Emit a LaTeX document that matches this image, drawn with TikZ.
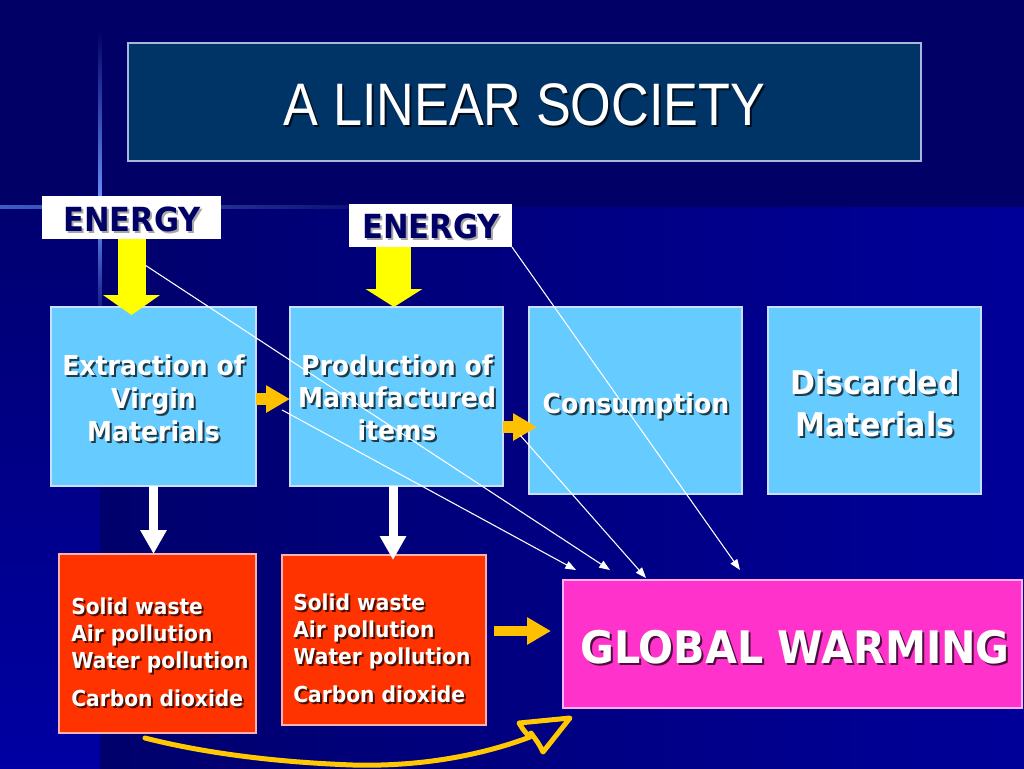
\documentclass[tikz,border=0pt]{standalone}
\usepackage{fontspec}
\setmainfont{DejaVu Sans}[FakeStretch=0.92]
\newfontfamily\titlefont{Liberation Sans}[FakeStretch=0.87]
\usetikzlibrary{arrows.meta,calc}
\definecolor{bgtop}{HTML}{000066}
\definecolor{bgmidL}{HTML}{00006C}
\definecolor{bgmidR}{HTML}{000099}
\definecolor{bgstripT}{HTML}{000070}
\definecolor{bgstripB}{HTML}{0000A3}
\definecolor{flareC}{HTML}{6A98FF}
\definecolor{titlefill}{HTML}{003366}
\definecolor{titleedge}{HTML}{A8B8D8}
\definecolor{lblue}{HTML}{66CCFF}
\definecolor{lblueedge}{HTML}{C8E0FF}
\definecolor{redfill}{HTML}{FF3300}
\definecolor{rededge}{HTML}{FFB0B0}
\definecolor{magfill}{HTML}{FF33CC}
\definecolor{magedge}{HTML}{FFB0F0}
\definecolor{yel}{HTML}{FFFF00}
\definecolor{orng}{HTML}{FFC000}
\definecolor{handcol}{HTML}{FFC800}
\definecolor{navytext}{HTML}{000066}
\newcommand\shtxt[5][shdark]{%
  \node[#3,#1] (#2s) at ([shift={(1.5pt,-1.5pt)}]#4) {#5};%
  \node[#3] (#2) at (#4) {#5};}
\begin{document}
\begin{tikzpicture}[x=0.75pt,y=-0.75pt,
  box/.style={inner sep=0pt, outer sep=0pt, anchor=north west, line width=0.8pt},
  titlebox/.style={box, draw=titleedge, fill=titlefill},
  whitebox/.style={box, fill=white},
  bluebox/.style={box, draw=lblueedge, fill=lblue},
  redbox/.style={box, draw=rededge, fill=redfill},
  magbox/.style={box, draw=magedge, fill=magfill},
  wtxt/.style={inner sep=0pt, anchor=base, text=white},
  rtxt/.style={wtxt, anchor=base west, font=\bfseries\fontsize{16.5}{20}\selectfont},
  ntxt/.style={inner sep=0pt, anchor=base, text=navytext, font=\bfseries\fontsize{24.9}{28}\selectfont},
  bfont/.style={font=\bfseries\fontsize{20.5}{24}\selectfont},
  dfont/.style={font=\bfseries\fontsize{24.5}{28}\selectfont},
  gfont/.style={font=\bfseries\fontsize{33.6}{38}\selectfont},
  tfont/.style={font=\titlefont\fontsize{45}{50}\selectfont},
  shdark/.style={text=black, opacity=0.7},
  shgray/.style={text=black!35},
  yarrow/.style={draw=yel, line width=#1},
  warrow/.style={draw=white, line width=6.75pt, -{Triangle[length=18pt,width=18.75pt]}},
  oarrow/.style={draw=orng, line width=9pt, -{Triangle[length=18pt,width=19.5pt]}},
  thinarrow/.style={draw=white, line width=0.8pt, -{Triangle[length=8pt,width=6pt]}},
  handcurve/.style={draw=handcol, line width=3.75pt, line cap=round, line join=round}]
\useasboundingbox (0,0) rectangle (1024,768);
% background
\fill[bgtop] (0,0) rectangle (1024,207);
\shade[left color=bgmidL, right color=bgmidR] (100,207) rectangle (1024,768);
\shade[top color=bgstripT, bottom color=bgstripB] (0,207) rectangle (100,768);
% flare
\shade[top color=bgtop, bottom color=flareC] (98.5,30) rectangle (101.5,207);
\shade[top color=flareC, bottom color=bgmidL] (98.5,207) rectangle (101.5,330);
\shade[left color=flareC!60!bgtop, middle color=flareC, right color=flareC!35!bgtop] (0,205.5) rectangle (200,208.5);
\shade[left color=flareC!35!bgtop, right color=bgtop] (200,205.5) rectangle (420,208.5);
\fill[white, opacity=0.6] (100,207) circle (2.5);
% boxes
\node[titlebox, minimum width=594.75pt, minimum height=88.5pt] (title) at (128,43) {};
\node[whitebox, minimum width=134.25pt, minimum height=32.25pt] (e1) at (42,196) {};
\node[whitebox, minimum width=122.25pt, minimum height=32.25pt] (e2) at (349,204) {};
\node[bluebox, minimum width=153.75pt, minimum height=134.25pt] (b1) at (51,307) {};
\node[bluebox, minimum width=159.75pt, minimum height=134.25pt] (b2) at (290,307) {};
\node[bluebox, minimum width=159.75pt, minimum height=140.25pt] (b3) at (529,307) {};
\node[bluebox, minimum width=159.75pt, minimum height=140.25pt] (b4) at (768,307) {};
\node[redbox, minimum width=147.75pt, minimum height=134.25pt] (r1) at (59,554) {};
\node[redbox, minimum width=153pt, minimum height=127.5pt] (r2) at (282,555) {};
\node[magbox, minimum width=344.25pt, minimum height=96pt] (gw) at (563,580) {};
% block arrows
\draw[yarrow=21pt, -{Triangle[length=15pt,width=42pt]}, shorten >=-6pt] (e1.south) -- (e1.south |- b1.north);
\coordinate (e2s) at ([xshift=-27.4pt]e2.south);
\draw[yarrow=26.25pt, -{Triangle[length=13.5pt,width=42pt]}] (e2s) -- (e2s |- b2.north);
\draw[warrow] (b1.south) -- (b1.south |- r1.north);
\coordinate (b2s) at ([xshift=-2.6pt]b2.south);
\draw[warrow, shorten >=-3.75pt] (b2s) -- (b2s |- r2.north);
\coordinate (oa) at ([yshift=-1.9pt]b1.east);
\draw[oarrow] (oa) -- (oa -| b2.west);
\coordinate (ob) at ([yshift=-22.9pt]b2.east);
\draw[oarrow, shorten >=-6pt] (ob) -- (ob -| b3.west);
\coordinate (oc) at ([yshift=6.75pt]r2.east);
\draw[oarrow, line width=7pt, shorten <=6pt, shorten >=9pt] (oc) -- (oc -| gw.west);
% texts
\shtxt{tt}{wtxt,tfont}{524.5,125}{A LINEAR SOCIETY}
\shtxt[shgray]{et1}{ntxt}{132,231}{ENERGY}
\shtxt[shgray]{et2}{ntxt}{431,238.5}{ENERGY}
\shtxt{x1}{wtxt,bfont}{153.5,375}{Extraction of}
\shtxt{x2}{wtxt,bfont}{153.5,408}{Virgin}
\shtxt{x3}{wtxt,bfont}{153.5,441}{Materials}
\shtxt{p1}{wtxt,bfont}{397,375}{Production of}
\shtxt{p2}{wtxt,bfont}{397,407}{Manufactured}
\shtxt{p3}{wtxt,bfont}{397,440}{items}
\shtxt{c1}{wtxt,bfont}{636,413}{Consumption}
\shtxt{d1}{wtxt,dfont}{875,394}{Discarded}
\shtxt{d2}{wtxt,dfont}{875,436}{Materials}
\shtxt{ra1}{rtxt}{71,614}{Solid waste}
\shtxt{ra2}{rtxt}{71,641.5}{Air pollution}
\shtxt{ra3}{rtxt}{71,668.3}{Water pollution}
\shtxt{ra4}{rtxt}{71,706.5}{Carbon dioxide}
\shtxt{rb1}{rtxt}{293,610}{Solid waste}
\shtxt{rb2}{rtxt}{293,637}{Air pollution}
\shtxt{rb3}{rtxt}{293,664}{Water pollution}
\shtxt{rb4}{rtxt}{293,702}{Carbon dioxide}
\shtxt{g1}{wtxt,gfont}{795,663}{GLOBAL WARMING}
% thin arrows
\draw[thinarrow] ([shift={(10.1pt,-19.5pt)}]e1.south) -- ([shift={(35.25pt,7.5pt)}]gw.north west);
\draw[thinarrow] ([shift={(-6pt,-10.1pt)}]b2.west) -- ([shift={(9.75pt,7.5pt)}]gw.north west);
\draw[thinarrow] ([shift={(12.75pt,-28.9pt)}]b2.east) -- ([shift={(62.25pt,1.5pt)}]gw.north west);
\draw[thinarrow] (e2.south east) -- ([shift={(132.75pt,7.5pt)}]gw.north west);
% hand-drawn arrow
\coordinate (cv0) at ([shift={(-9.4pt,-3.75pt)}]r1.south);
\coordinate (cv1) at ([shift={(5.25pt,-7.5pt)}]gw.south west);
\draw[handcurve] (cv0) .. controls (200,752) and (270,762) .. (353,765)
  .. controls (430,767) and (490,752) .. (530,737)
  .. controls (524,731) .. (519,723) -- (cv1) -- (543,752) .. controls (539,744) .. (531,733);
\end{tikzpicture}
\end{document}
